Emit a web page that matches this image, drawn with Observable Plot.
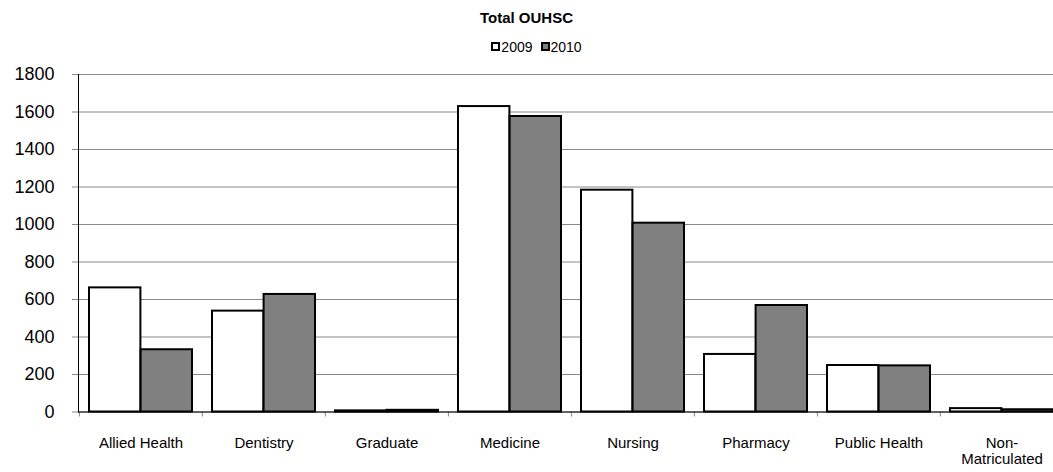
<!DOCTYPE html>
<html>
<head>
<meta charset="utf-8">
<script src="https://cdn.jsdelivr.net/npm/d3@7"></script>
<script src="https://cdn.jsdelivr.net/npm/@observablehq/plot@0.6"></script>
<style>
  html, body { margin: 0; padding: 0; background: #fff; overflow: hidden; }
  body { font-family: "Liberation Sans", Arial, sans-serif; width: 1053px; }
  #header { position: relative; height: 60px; width: 1053px; }
  #title { position: absolute; top: 10px; left: 0; width: 1053px; text-align: center; font-weight: bold; font-size: 15px; line-height: 16px; color: #000; }
  #legend { position: absolute; top: 39px; left: 10px; width: 1053px; text-align: center; font-size: 14px; line-height: 16px; color: #000; }
  .item { display: inline-block; margin: 0 4px; }
  .sw { display: inline-block; width: 5px; height: 5px; border: 2px solid #000; vertical-align: 1px; margin-right: 1px; }
  #chart svg { overflow: hidden; display: block; }
</style>
</head>
<body>
<div id="header">
  <div id="title">Total OUHSC</div>
  <div id="legend"></div>
</div>
<div id="chart"></div>
<script>
const categories = ["Allied Health", "Dentistry", "Graduate", "Medicine", "Nursing", "Pharmacy", "Public Health", "Non-Matriculated"];
const years = ["2009", "2010"];
const values2009 = [662, 538, 6, 1629, 1183, 307, 248, 18];
const values2010 = [332, 627, 9, 1576, 1007, 568, 246, 12];
const yTicks = [0, 200, 400, 600, 800, 1000, 1200, 1400, 1600, 1800];
const colors = {"2009": "#ffffff", "2010": "#808080"};
const categoryLabels = {"Non-Matriculated": "Non-\nMatriculated"};

const data2009 = categories.map((c, i) => ({category: c, year: "2009", value: values2009[i]}));
const data2010 = categories.map((c, i) => ({category: c, year: "2010", value: values2010[i]}));

// legend
const legend = document.getElementById("legend");
years.forEach(y => {
  const s = document.createElement("span");
  s.className = "item";
  s.innerHTML = `<span class="sw" style="background:${colors[y]}"></span>${y}`;
  legend.appendChild(s);
});

const W = 1053;
const marginLeft = 78;
const marginRight = -10.6;
const step = (W - marginRight - marginLeft) / categories.length;
const gap = 10;

const chart = Plot.plot({
  width: W,
  height: 412,
  marginLeft,
  marginRight,
  marginTop: 14,
  marginBottom: 60.5,
  style: {fontFamily: "'Liberation Sans', Arial, sans-serif", color: "#000", background: "#fff", overflow: "hidden"},
  x: {domain: categories, padding: 0, axis: null},
  y: {domain: [0, 1800], axis: null},
  marks: [
    Plot.gridY(yTicks, {stroke: "#888", strokeOpacity: 1}),
    Plot.barY(data2009, {x: "category", y: "value", fill: colors["2009"], stroke: "#000", strokeWidth: 2, insetLeft: gap, insetRight: step / 2}),
    Plot.barY(data2010, {x: "category", y: "value", fill: colors["2010"], stroke: "#000", strokeWidth: 2, insetLeft: step / 2, insetRight: gap}),
    Plot.ruleX(categories, {x: d => d, y1: 0, y2: 0, insetBottom: -5, dx: -step / 2, stroke: "#888"}),
    Plot.ruleY([0], {stroke: "#000", strokeWidth: 1}),
    Plot.axisY(yTicks, {anchor: "left", tickSize: 6, tickPadding: 18, fontSize: 18, label: null, stroke: "#888", tickFormat: d => String(d)}),
    Plot.frame({anchor: "left", stroke: "#000"}),
    Plot.axisX(categories, {anchor: "bottom", tickSize: 0, tickPadding: 24, fontSize: 15, lineHeight: 1.1, label: null, tickFormat: d => categoryLabels[d] || d})
  ]
});
document.getElementById("chart").appendChild(chart);
</script>
</body>
</html>
